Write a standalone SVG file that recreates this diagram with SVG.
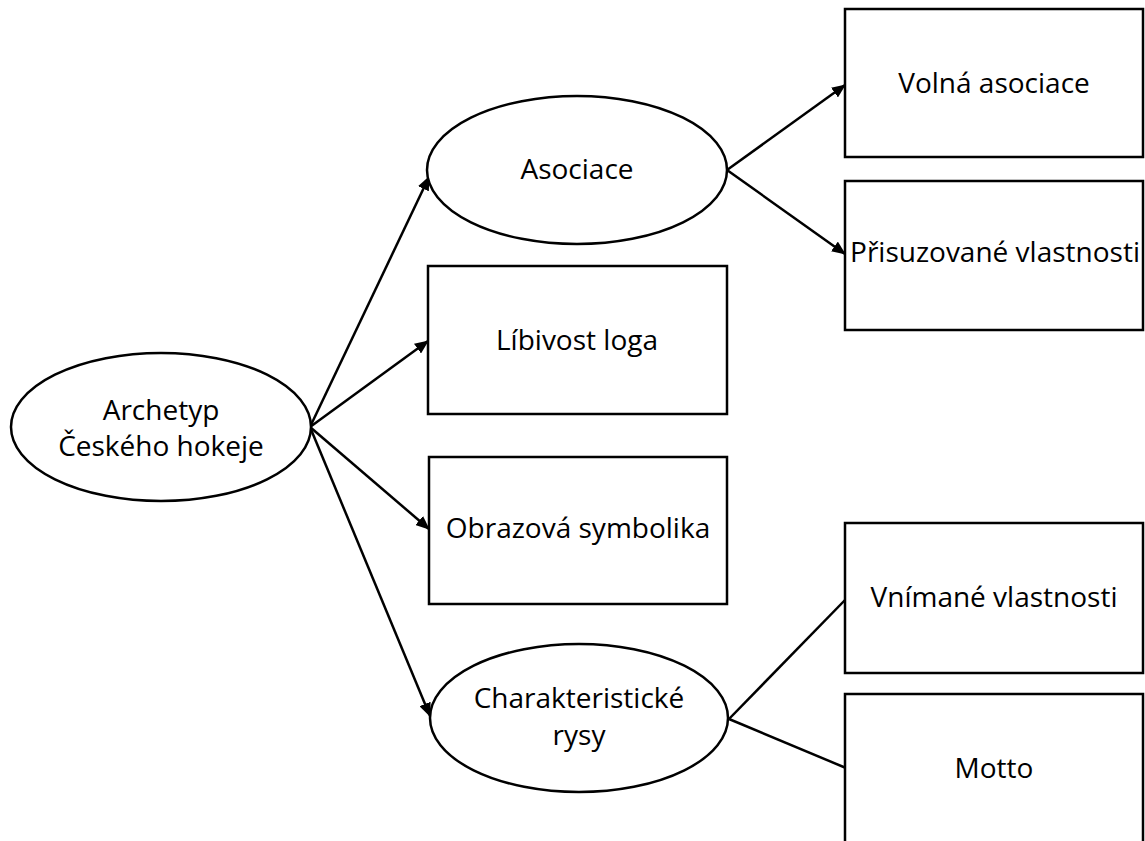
<svg xmlns="http://www.w3.org/2000/svg" width="1145" height="841" viewBox="0 0 1145 841">
<style>
.shape{fill:#fff;stroke:#000;stroke-width:2.5}
.lbl{font-family:"Open Sans","Liberation Sans",sans-serif;font-size:28px;fill:#000;text-anchor:middle}
.con{stroke:#000;stroke-width:2.5;fill:none}
</style>
<defs>
<marker id="arr" markerWidth="14" markerHeight="12" refX="13" refY="6" orient="auto" markerUnits="userSpaceOnUse">
<path d="M0,0 L14,6 L0,12 Z" fill="#000"/>
</marker>
</defs>
<rect width="1145" height="841" fill="#fff"/>
<g id="connectors">
<line class="con" x1="310" y1="427" x2="429" y2="177" marker-end="url(#arr)"/>
<line class="con" x1="310" y1="427" x2="428" y2="341" marker-end="url(#arr)"/>
<line class="con" x1="310" y1="427" x2="429" y2="529" marker-end="url(#arr)"/>
<line class="con" x1="310" y1="427" x2="430" y2="716" marker-end="url(#arr)"/>
<line class="con" x1="727" y1="170" x2="845" y2="85" marker-end="url(#arr)"/>
<line class="con" x1="727" y1="170" x2="845" y2="254" marker-end="url(#arr)"/>
<line class="con" x1="729" y1="719" x2="846" y2="599"/>
<line class="con" x1="729" y1="719" x2="846" y2="768"/>
</g>
<g id="n-archetyp">
<ellipse class="shape" cx="161" cy="427" rx="150" ry="74"/>
<text class="lbl" x="161" y="420">Archetyp</text>
<text class="lbl" x="161" y="456">Českého hokeje</text>
</g>
<g id="n-asociace">
<ellipse class="shape" cx="577" cy="170" rx="150" ry="74"/>
<text class="lbl" x="577" y="179">Asociace</text>
</g>
<g id="n-libivost">
<rect class="shape" x="428" y="266" width="299" height="148"/>
<text class="lbl" x="577" y="350">Líbivost loga</text>
</g>
<g id="n-obrazova">
<rect class="shape" x="429" y="457" width="298" height="147"/>
<text class="lbl" x="578" y="538">Obrazová symbolika</text>
</g>
<g id="n-charakter">
<ellipse class="shape" cx="579" cy="718" rx="149" ry="74"/>
<text class="lbl" x="579" y="708">Charakteristické</text>
<text class="lbl" x="579" y="745">rysy</text>
</g>
<g id="n-volna">
<rect class="shape" x="845" y="9" width="298" height="148"/>
<text class="lbl" x="994" y="93">Volná asociace</text>
</g>
<g id="n-prisuzovane">
<rect class="shape" x="845" y="181" width="298" height="149"/>
<text class="lbl" x="995" y="262">Přisuzované vlastnosti</text>
</g>
<g id="n-vnimane">
<rect class="shape" x="845" y="523" width="298" height="150"/>
<text class="lbl" x="994" y="607">Vnímané vlastnosti</text>
</g>
<g id="n-motto">
<rect class="shape" x="845" y="694" width="298" height="160"/>
<text class="lbl" x="994" y="778">Motto</text>
</g>
</svg>
